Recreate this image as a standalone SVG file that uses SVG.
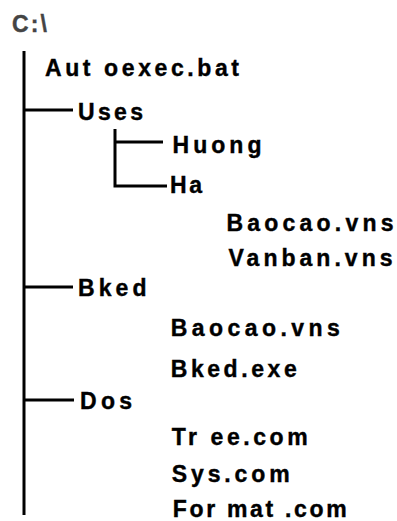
<svg xmlns="http://www.w3.org/2000/svg" width="397" height="521" viewBox="0 0 397 521">
  <style>
    .lbl { font-family: "Liberation Sans", Arial, sans-serif; font-weight: bold; font-size: 23px; fill: #000; stroke: #000; stroke-width: 0.4; }
    .root { fill: #444; stroke: #444; }
    .wire { stroke: #000; stroke-width: 3; fill: none; stroke-linecap: butt; }
  </style>
  <rect width="397" height="521" fill="#fff"/>

  <!-- tree connectors -->
  <g id="connectors" class="wire">
    <line x1="24" y1="51" x2="24" y2="515"/>
    <line x1="24" y1="110" x2="73" y2="110"/>
    <line x1="24" y1="287" x2="73" y2="287"/>
    <line x1="24" y1="400" x2="74" y2="400"/>
    <path d="M115,129 V186 H167"/>
    <line x1="115" y1="142" x2="163" y2="142"/>
  </g>

  <!-- directory and file entries -->
  <g id="drive-c"><text class="lbl root" x="12" y="32" textLength="35" lengthAdjust="spacing">C:\</text></g>
  <g id="autoexec"><text class="lbl" x="45" y="76" textLength="194" lengthAdjust="spacing">Aut oexec.bat</text></g>
  <g id="uses"><text class="lbl" x="78" y="120" textLength="65" lengthAdjust="spacing">Uses</text></g>
  <g id="huong"><text class="lbl" x="172.5" y="153" textLength="89" lengthAdjust="spacing">Huong</text></g>
  <g id="ha"><text class="lbl" x="170" y="193" textLength="32" lengthAdjust="spacing">Ha</text></g>
  <g id="ha-baocao"><text class="lbl" x="226.5" y="231" textLength="167" lengthAdjust="spacing">Baocao.vns</text></g>
  <g id="ha-vanban"><text class="lbl" x="228.5" y="266" textLength="164" lengthAdjust="spacing">Vanban.vns</text></g>
  <g id="bked"><text class="lbl" x="78" y="296" textLength="68.5" lengthAdjust="spacing">Bked</text></g>
  <g id="bked-baocao"><text class="lbl" x="170.7" y="336" textLength="169" lengthAdjust="spacing">Baocao.vns</text></g>
  <g id="bked-exe"><text class="lbl" x="170.7" y="377" textLength="126" lengthAdjust="spacing">Bked.exe</text></g>
  <g id="dos"><text class="lbl" x="80" y="409" textLength="52" lengthAdjust="spacing">Dos</text></g>
  <g id="tree-com"><text class="lbl" x="171.7" y="445" textLength="136" lengthAdjust="spacing">Tr ee.com</text></g>
  <g id="sys-com"><text class="lbl" x="171.7" y="481.5" textLength="118" lengthAdjust="spacing">Sys.com</text></g>
  <g id="format-com"><text class="lbl" x="172.7" y="517" textLength="174" lengthAdjust="spacing">For mat .com</text></g>
</svg>
